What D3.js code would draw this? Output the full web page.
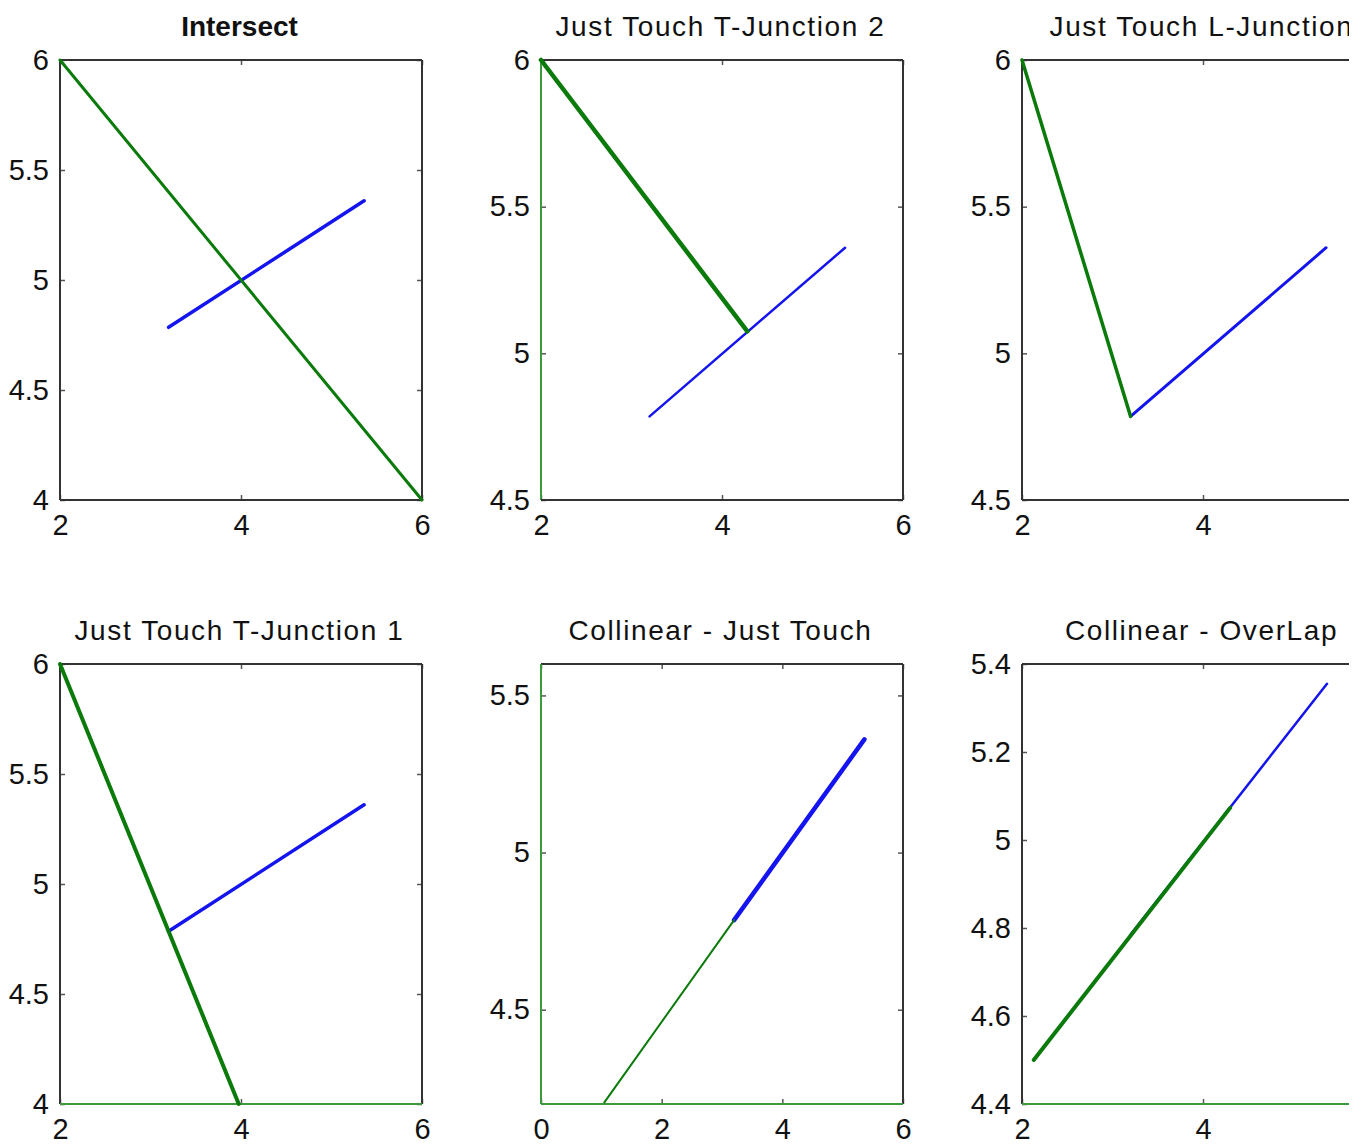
<!DOCTYPE html>
<html>
<head>
<meta charset="utf-8">
<script src="https://cdn.jsdelivr.net/npm/d3@7"></script>
<style>
  html, body { margin: 0; padding: 0; background: #fff; }
  svg { display: block; }
</style>
</head>
<body>
<script>
// ---------- data ----------
const titles = ["Intersect", "Just Touch T-Junction 2", "Just Touch L-Junction",
                "Just Touch T-Junction 1", "Collinear - Just Touch", "Collinear - OverLap"];
const xDomains = [[2, 6], [2, 6], [2, 6], [2, 6], [0, 6], [2, 6]];
const yDomains = [[4, 6], [4.5, 6], [4.5, 6], [4, 6], [4.2, 5.6], [4.4, 5.4]];
const xTickValues = [[2, 4, 6], [2, 4, 6], [2, 4, 6], [2, 4, 6], [0, 2, 4, 6], [2, 4, 6]];
const yTickValues = [[4, 4.5, 5, 5.5, 6], [4.5, 5, 5.5, 6], [4.5, 5, 5.5, 6],
                     [4, 4.5, 5, 5.5, 6], [4.5, 5, 5.5], [4.4, 4.6, 4.8, 5, 5.2, 5.4]];
// segment endpoints [start, end]
const greenX = [[2, 6], [2, 4.28], [2, 3.2], [2, 3.975], [1.05, 3.2], [2.13, 4.3]];
const greenY = [[6, 4], [6, 5.075], [6, 4.785], [6, 4], [4.205, 4.785], [4.5, 5.073]];
const blueX  = [[3.2, 5.36], [3.2, 5.36], [3.2, 5.36], [3.2, 5.36], [3.2, 5.36], [3.2, 5.37]];
const blueY  = [[4.785, 5.36], [4.785, 5.36], [4.785, 5.36], [4.785, 5.36], [4.785, 5.36], [4.785, 5.355]];

// ---------- styles / layout ----------
const W = 1363, H = 1144, visibleW = 1349;
const colLeft = [60, 541, 1022], rowTop = [60, 664];
const pw = 362, ph = 440;
const greenW = [3, 4.5, 3.5, 4, 2, 4];
const blueW  = [3.5, 2.5, 3, 3.5, 4.5, 2.5];
const boldTitle = [true, false, false, false, false, false];
// edge colour overrides: [left, bottom]
const edgeGreen = [[false, false], [true, false], [false, false], [false, true], [true, true], [false, true]];
const GREEN = "#0a7a0a", BLUE = "#1414f0", EDGE = "#333", EDGE_G = "#3c9a3c";
const FONT = "'Liberation Sans', Arial, Helvetica, sans-serif";

const svg = d3.select("body").append("svg").attr("width", W).attr("height", H);
svg.append("defs").append("clipPath").attr("id", "vis")
  .append("rect").attr("x", 0).attr("y", 0).attr("width", visibleW).attr("height", H);
const root = svg.append("g").attr("clip-path", "url(#vis)");

const fmt = d3.format("~g");

titles.forEach((title, i) => {
  const col = i % 3, row = Math.floor(i / 3);
  const x0 = colLeft[col], y0 = rowTop[row];
  const g = root.append("g").attr("transform", `translate(${x0},${y0})`);
  const x = d3.scaleLinear().domain(xDomains[i]).range([0, pw]);
  const y = d3.scaleLinear().domain(yDomains[i]).range([ph, 0]);

  // axes with inward ticks
  const ax = g.append("g").attr("transform", `translate(0,${ph})`)
    .call(d3.axisBottom(x).tickValues(xTickValues[i]).tickFormat(fmt).tickSize(-5).tickPadding(14));
  // hide labels lying beyond the visible (cropped) figure edge
  ax.selectAll(".tick").filter(d => x0 + x(d) + 10 > visibleW).select("text").remove();
  const ay = g.append("g")
    .call(d3.axisLeft(y).tickValues(yTickValues[i]).tickFormat(fmt).tickSize(-5).tickPadding(11));
  g.append("g").call(d3.axisTop(x).tickValues(xTickValues[i]).tickFormat("").tickSize(-5));
  g.append("g").attr("transform", `translate(${pw},0)`)
    .call(d3.axisRight(y).tickValues(yTickValues[i]).tickFormat("").tickSize(-5));
  g.selectAll(".domain").remove();
  g.selectAll(".tick line").attr("stroke", "#555").attr("stroke-width", 1.5);
  g.selectAll(".tick text")
    .attr("font-family", FONT)
    .attr("font-size", 29).attr("fill", "#111");

  // box
  g.append("line").attr("x1", 0).attr("y1", 0).attr("x2", pw).attr("y2", 0).attr("stroke", EDGE).attr("stroke-width", 2);
  g.append("line").attr("x1", pw).attr("y1", 0).attr("x2", pw).attr("y2", ph).attr("stroke", EDGE).attr("stroke-width", 2);
  g.append("line").attr("x1", 0).attr("y1", 0).attr("x2", 0).attr("y2", ph)
    .attr("stroke", edgeGreen[i][0] ? EDGE_G : EDGE).attr("stroke-width", 2);
  g.append("line").attr("x1", 0).attr("y1", ph).attr("x2", pw).attr("y2", ph)
    .attr("stroke", edgeGreen[i][1] ? EDGE_G : EDGE).attr("stroke-width", 2);

  const line = d3.line().x(d => x(d[0])).y(d => y(d[1]));
  const blue = blueX[i].map((v, k) => [v, blueY[i][k]]);
  const green = greenX[i].map((v, k) => [v, greenY[i][k]]);
  g.append("path").attr("d", line(blue)).attr("fill", "none")
    .attr("stroke", BLUE).attr("stroke-width", blueW[i]).attr("stroke-linecap", "round");
  g.append("path").attr("d", line(green)).attr("fill", "none")
    .attr("stroke", GREEN).attr("stroke-width", greenW[i]).attr("stroke-linecap", "round");

  // title
  g.append("text").attr("x", pw / 2 - 1.5).attr("y", -24)
    .attr("text-anchor", "middle")
    .attr("font-family", FONT)
    .attr("font-size", 28)
    .attr("font-weight", boldTitle[i] ? "bold" : "normal")
    .attr("letter-spacing", boldTitle[i] ? 0 : 1.6)
    .attr("fill", "#111")
    .text(title);
});
</script>
</body>
</html>
